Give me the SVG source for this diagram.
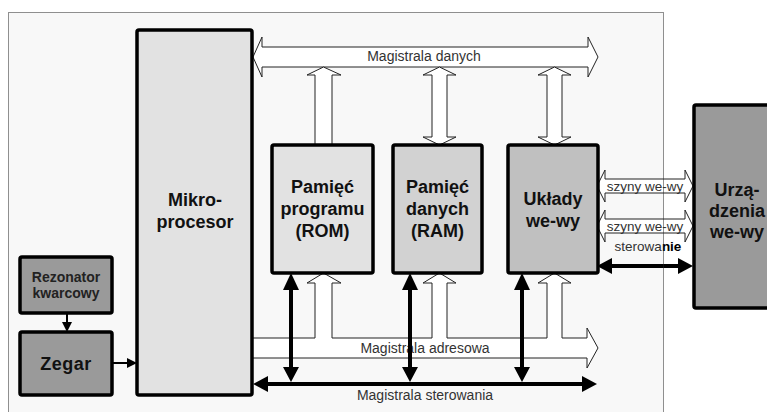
<svg xmlns="http://www.w3.org/2000/svg" width="767" height="412" viewBox="0 0 767 412">
  <defs>
    <style>
      .box { stroke: #000; stroke-width: 3.5; stroke-linejoin: round; }
      .light { fill: #e2e2e2; }
      .mid { fill: #d2d2d2; }
      .io { fill: #c0c0c0; }
      .dark { fill: #9a9a9a; }
      .lbl { font-family: "Liberation Sans", Arial, sans-serif; font-weight: bold; font-size: 18px; fill: #111; text-anchor: middle; }
      .small { font-size: 14px; fill: #222; }
      .bus { fill: #fff; stroke: #222; stroke-width: 1; stroke-linejoin: miter; }
      .buslbl { font-family: "Liberation Sans", Arial, sans-serif; font-size: 14px; fill: #333; text-anchor: middle; }
      .iolbl { font-family: "Liberation Sans", Arial, sans-serif; font-size: 13.5px; fill: #333; text-anchor: middle; }
      .thick { stroke: #000; stroke-width: 4; fill: none; }
      .thin { stroke: #000; stroke-width: 2; fill: none; }
      .head { fill: #000; }
    </style>
  </defs>

  <!-- board area -->
  <rect x="8.5" y="12.5" width="655" height="410" fill="#f8f8f8"/>

  <g id="connectors">
    <!-- data bus -->
    <polygon class="bus" points="253,57 262,37 262,47 588,47 588,37 598,57 588,77 588,67 262,67 262,77"/>
    <text class="buslbl" x="424" y="61">Magistrala danych</text>
    <!-- data bus to ROM (read only) -->
    <polygon class="bus" points="323.5,67 341,75 332,75 332,145 315,145 315,75 307,75"/>
    <!-- data bus to RAM -->
    <polygon class="bus" points="439.5,67 456,75 447,75 447,137 456,137 439.5,145 423,137 432,137 432,75 423,75"/>
    <!-- data bus to I/O -->
    <polygon class="bus" points="554.5,67 571,75 562,75 562,137 571,137 554.5,145 538,137 547,137 547,75 538,75"/>

    <!-- address bus with its three branches -->
    <path class="bus" d="M252,338 L315,338 L315,283 L307,283 L323.5,273 L341,283 L332,283 L332,338 L432,338 L432,283 L423,283 L439.5,273 L456,283 L447,283 L447,338 L547,338 L547,283 L538,283 L554.5,273 L571,283 L562,283 L562,338 L587,338 L587,328 L598,348 L587,368 L587,358 L252,358"/>
    <text class="buslbl" x="425" y="353">Magistrala adresowa</text>

    <!-- control bus -->
    <line class="thick" x1="264" y1="384" x2="586" y2="384"/>
    <polygon class="head" points="253,384 268,376 268,392"/>
    <polygon class="head" points="597,384 582,376 582,392"/>
    <text class="buslbl" x="425" y="400">Magistrala sterowania</text>

    <!-- control lines to ROM, RAM, I/O -->
    <line class="thick" x1="291" y1="286" x2="291" y2="370"/>
    <polygon class="head" points="291,273 283,290 299,290"/>
    <polygon class="head" points="291,382 283,367 299,367"/>
    <line class="thick" x1="410" y1="286" x2="410" y2="370"/>
    <polygon class="head" points="410,273 402,290 418,290"/>
    <polygon class="head" points="410,382 402,367 418,367"/>
    <line class="thick" x1="522" y1="286" x2="522" y2="370"/>
    <polygon class="head" points="522,273 514,290 530,290"/>
    <polygon class="head" points="522,382 514,367 530,367"/>

    <!-- clock chain -->
    <line class="thin" x1="67" y1="313" x2="67" y2="323"/>
    <polygon class="head" points="67,332 62,322 72,322"/>
    <line class="thin" x1="112" y1="363" x2="128" y2="363"/>
    <polygon class="head" points="137,363 127,358 127,368"/>

    <!-- I/O buses to peripherals -->
    <polygon class="bus" points="597,186 605,170 605,179 685,179 685,170 693,186 685,202 685,193 605,193 605,202"/>
    <text class="iolbl" x="645" y="191">szyny we-wy</text>
    <polygon class="bus" points="597,226 605,210 605,219 685,219 685,210 693,226 685,242 685,233 605,233 605,242"/>
    <text class="iolbl" x="645" y="231">szyny we-wy</text>
    <text class="iolbl" x="648" y="251">sterowa<tspan font-weight="bold" fill="#000">nie</tspan></text>
    <line class="thick" x1="608" y1="266" x2="682" y2="266"/>
    <polygon class="head" points="597,266 612,258 612,274"/>
    <polygon class="head" points="693,266 678,258 678,274"/>
  </g>

  <g id="mikroprocesor">
    <rect class="box light" x="137" y="30" width="115" height="365" rx="2"/>
    <text class="lbl" x="195" y="206">Mikro-</text>
    <text class="lbl" x="195" y="228">procesor</text>
  </g>

  <g id="rom">
    <rect class="box light" x="272" y="145" width="101" height="128" rx="2"/>
    <text class="lbl" x="322.5" y="193">Pamięć</text>
    <text class="lbl" x="322.5" y="215">programu</text>
    <text class="lbl" x="322.5" y="237">(ROM)</text>
  </g>

  <g id="ram">
    <rect class="box mid" x="393" y="145" width="89" height="128" rx="2"/>
    <text class="lbl" x="437.5" y="193">Pamięć</text>
    <text class="lbl" x="437.5" y="215">danych</text>
    <text class="lbl" x="437.5" y="237">(RAM)</text>
  </g>

  <g id="uklady-we-wy">
    <rect class="box io" x="508" y="145" width="90" height="128" rx="2"/>
    <text class="lbl" x="553" y="205">Układy</text>
    <text class="lbl" x="553" y="227">we-wy</text>
  </g>

  <g id="urzadzenia-we-wy">
    <rect class="box dark" x="694" y="105" width="90" height="203" rx="2"/>
    <text class="lbl" x="737" y="196" font-size="17">Urzą-</text>
    <text class="lbl" x="737" y="217" font-size="17">dzenia</text>
    <text class="lbl" x="737" y="238" font-size="17">we-wy</text>
  </g>

  <g id="rezonator">
    <rect class="box dark" x="20" y="257" width="92" height="56" rx="2"/>
    <text class="lbl small" x="66" y="282">Rezonator</text>
    <text class="lbl small" x="66" y="298">kwarcowy</text>
  </g>

  <g id="zegar">
    <rect class="box dark" x="20" y="332" width="92" height="63" rx="2"/>
    <text class="lbl" x="66" y="370" font-size="17" letter-spacing="0.5">Zegar</text>
  </g>

  <!-- board outline -->
  <rect x="8.5" y="12.5" width="655" height="410" fill="none" stroke="#222" stroke-width="1" stroke-dasharray="1 1"/>
</svg>
